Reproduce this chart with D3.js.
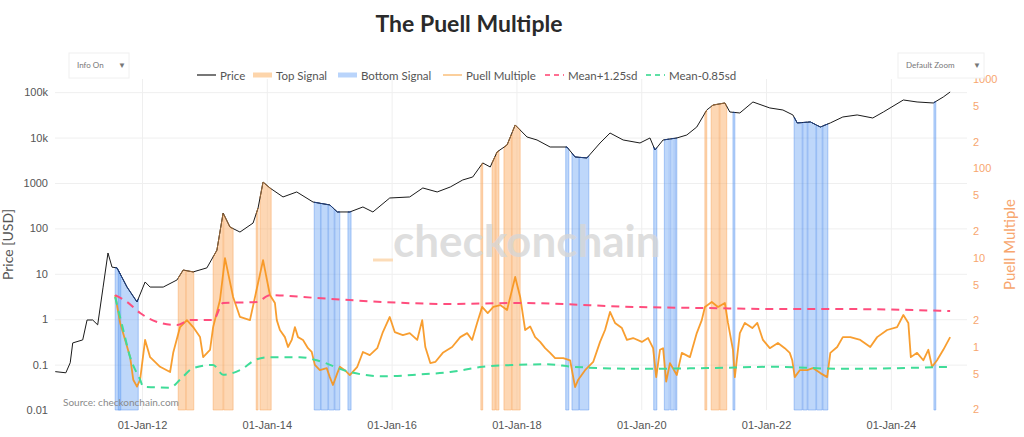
<!DOCTYPE html>
<html>
<head>
    <style>
        body { margin: 0; background: #fff; }
        svg { font-family: Lato, "Open Sans", sans-serif; }
        .title { font-size: 23px; font-weight: bold; fill: #2a2a2a; }
        .legend text { font-size: 11.5px; fill: #555; }
        .axis text { font-size: 11px; fill: #555; }
        .axis path, .axis line { stroke: none; }
        .grid line { stroke: #efefef; }
        .grid path { stroke: none; }
        .right text { fill: #f7a66e; }
        .ctrl text { font-size: 8px; fill: #777; }
    </style>
    <script src="https://d3js.org/d3.v7.min.js"></script>
</head>
<body>
    <svg width="1024" height="437"></svg>
    <script>

    // price, decimal year -> USD
    var priceYear = [2010.61, 2010.78, 2010.85, 2010.89, 2011.05, 2011.12, 2011.21, 2011.29, 2011.375, 2011.455,
        2011.52, 2011.6, 2011.76, 2011.92, 2012.05, 2012.13, 2012.34, 2012.56, 2012.66, 2012.82,
        2013.04, 2013.2, 2013.3, 2013.41, 2013.57, 2013.78, 2013.86, 2013.94, 2014.05, 2014.26,
        2014.48, 2014.74, 2015.01, 2015.13, 2015.33, 2015.54, 2015.7, 2015.97, 2016.29, 2016.5,
        2016.73, 2016.94, 2017.14, 2017.3, 2017.46, 2017.58, 2017.69, 2017.85, 2017.98, 2018.17,
        2018.33, 2018.54, 2018.81, 2018.94, 2019.13, 2019.34, 2019.5, 2019.71, 2019.98, 2020.14,
        2020.22, 2020.35, 2020.57, 2020.73, 2020.89, 2021.05, 2021.15, 2021.34, 2021.42, 2021.58,
        2021.79, 2022.06, 2022.27, 2022.43, 2022.5, 2022.71, 2022.87, 2023.03, 2023.23, 2023.46,
        2023.71, 2023.88, 2024.2, 2024.42, 2024.68, 2024.84, 2024.95];
    var priceValue = [0.07, 0.066, 0.11, 0.3, 0.35, 0.96, 0.96, 0.75, 4.9, 28.7,
        14, 13.5, 5.1, 2.4, 6.6, 5.1, 5.1, 7.3, 12.1, 11,
        13.5, 33, 218, 107, 83, 131, 281, 1050, 776, 492,
        634, 381, 328, 230, 230, 296, 230, 467, 492, 776,
        634, 816, 1165, 1355, 2760, 2250, 4820, 6870, 18950, 10300,
        8850, 6200, 6200, 3740, 3560, 7600, 12600, 8850, 7600, 9800,
        5330, 8850, 9800, 11400, 17100, 40500, 52000, 57800, 36600, 34800,
        60800, 44900, 40500, 31500, 21000, 22100, 17100, 21000, 28400, 31500,
        27000, 36600, 67300, 60800, 57800, 78300, 101000];

    // puell multiple
    var puellYear = [2011.57, 2011.65, 2011.73, 2011.81, 2011.86, 2011.92, 2011.97, 2012.05, 2012.13, 2012.29,
        2012.45, 2012.5, 2012.61, 2012.72, 2012.82, 2012.93, 2012.98, 2013.09, 2013.14, 2013.25,
        2013.33, 2013.46, 2013.57, 2013.73, 2013.94,
        2014.05, 2014.13, 2014.16, 2014.21, 2014.29, 2014.34, 2014.40, 2014.45, 2014.5, 2014.58,
        2014.66, 2014.72, 2014.77, 2014.85, 2014.96, 2015.01, 2015.06, 2015.13, 2015.17, 2015.25,
        2015.33, 2015.45, 2015.54, 2015.65, 2015.77, 2015.86, 2015.97, 2016.05, 2016.18, 2016.29,
        2016.41, 2016.49, 2016.54, 2016.62, 2016.7, 2016.82, 2016.97, 2017.1, 2017.21, 2017.29,
        2017.37, 2017.45, 2017.54, 2017.63, 2017.74, 2017.85, 2017.98, 2018.06, 2018.14, 2018.22,
        2018.3, 2018.38, 2018.46, 2018.54, 2018.62, 2018.75, 2018.86, 2018.94, 2018.99, 2019.1,
        2019.23, 2019.34, 2019.42, 2019.5, 2019.58, 2019.69, 2019.77, 2019.87, 2020.01, 2020.11,
        2020.19, 2020.24, 2020.3, 2020.35, 2020.4, 2020.46, 2020.57, 2020.65, 2020.78, 2020.89,
        2020.97, 2021.02, 2021.13, 2021.23, 2021.34, 2021.39, 2021.47, 2021.5, 2021.58, 2021.66,
        2021.78, 2021.86, 2021.95, 2022.06, 2022.19, 2022.3, 2022.38, 2022.42, 2022.46, 2022.54,
        2022.66, 2022.75, 2022.87, 2022.98, 2023.03, 2023.14, 2023.23, 2023.35, 2023.51, 2023.67,
        2023.78, 2023.94, 2024.1, 2024.2, 2024.28, 2024.32, 2024.42, 2024.52, 2024.6, 2024.66,
        2024.74, 2024.84, 2024.95];
    var puellValue = [3.8, 1.86, 1.2, 0.77, 0.43, 0.36, 0.43, 1.2, 0.77, 0.6,
        0.525, 0.86, 1.67, 2.0, 1.67, 1.29, 0.77, 0.93, 1.67, 3.36,
        9.9, 3.63, 2.17, 2.0, 9.4,
        3.82, 3.11, 2.0, 1.55, 1.29, 1.0, 1.2, 1.67, 1.29, 1.2,
        0.97, 0.88, 0.63, 0.55, 0.58, 0.46, 0.375, 0.51, 0.6, 0.55,
        0.485, 0.6, 0.88, 0.81, 0.97, 1.47, 2.17, 1.47, 1.36, 1.43,
        1.2, 2.0, 1.0, 0.66, 0.68, 0.86, 1.0, 1.29, 1.43, 1.2,
        1.86, 2.81, 2.4, 2.81, 2.95, 2.6, 6.08, 3.63, 1.55, 1.7,
        1.29, 1.14, 0.97, 0.86, 0.75, 0.75, 0.71, 0.356, 0.43, 0.55,
        0.68, 1.14, 1.55, 2.47, 1.86, 1.63, 1.2, 1.26, 1.14, 1.26,
        0.97, 0.46, 0.93, 0.97, 0.41, 0.66, 0.485, 0.86, 0.77, 1.43,
        2.0, 2.81, 3.19, 2.81, 3.11, 1.86, 0.93, 0.46, 1.43, 1.86,
        1.63, 1.86, 1.2, 0.97, 1.11, 0.97, 0.86, 0.71, 0.46, 0.55,
        0.55, 0.58, 0.51, 0.46, 0.86, 1.0, 1.29, 1.29, 1.2, 1.0,
        1.29, 1.55, 1.67, 2.28, 1.86, 0.77, 0.86, 0.71, 0.93, 0.6,
        0.71, 0.93, 1.29];

    // mean + 1.25 sd
    var meanHiYear = [2011.57, 2011.76, 2011.97, 2012.29, 2012.56, 2012.77, 2013.14, 2013.3, 2013.84, 2014.05,
        2014.8, 2015.86, 2016.94, 2018.01, 2019.98, 2021.05, 2022.11, 2023.19, 2024.95];
    var meanHiValue = [3.8, 3.19, 2.4, 1.86, 1.76, 2.0, 2.0, 3.11, 3.19, 3.8,
        3.54, 3.19, 3.03, 3.11, 2.8, 2.73, 2.66, 2.66, 2.53];

    // mean - 0.85 sd
    var meanLoYear = [2011.57, 2011.7, 2011.81, 2011.97, 2012.02, 2012.45, 2012.61, 2012.82, 2013.14, 2013.3,
        2013.57, 2013.84, 2014.05, 2014.53, 2014.8, 2015.33, 2015.86, 2016.41, 2016.94, 2017.46,
        2018.01, 2018.49, 2018.91, 2019.98, 2021.05, 2022.11, 2023.19, 2024.95];
    var meanLoValue = [3.63, 1.55, 0.77, 0.43, 0.36, 0.35, 0.43, 0.58, 0.63, 0.49,
        0.55, 0.73, 0.77, 0.77, 0.71, 0.525, 0.47, 0.49, 0.525, 0.6,
        0.63, 0.64, 0.6, 0.57, 0.58, 0.6, 0.57, 0.6];

    // signal periods [start, end]
    var topSignal = [[2012.58, 2012.70], [2012.71, 2012.83], [2013.14, 2013.30], [2013.31, 2013.46],
        [2013.83, 2013.86], [2013.89, 2014.07], [2017.43, 2017.46], [2017.61, 2017.66], [2017.67, 2017.72],
        [2017.80, 2017.92], [2017.93, 2018.06], [2021.02, 2021.05], [2021.12, 2021.25], [2021.26, 2021.37]];
    var bottomSignal = [[2011.57, 2011.94], [2011.62, 2011.66], [2014.76, 2014.86], [2014.87, 2014.98],
        [2014.99, 2015.08], [2015.09, 2015.17], [2015.30, 2015.35], [2018.79, 2018.84], [2018.89, 2019.00],
        [2019.01, 2019.16], [2020.20, 2020.25], [2020.37, 2020.45], [2020.47, 2020.53], [2020.55, 2020.57],
        [2021.47, 2021.50], [2022.45, 2022.58], [2022.59, 2022.66], [2022.67, 2022.80], [2022.81, 2022.90],
        [2022.91, 2022.99], [2024.69, 2024.72]];

    var xTicks = [2012, 2014, 2016, 2018, 2020, 2022, 2024];
    var xTickLabels = ["01-Jan-12", "01-Jan-14", "01-Jan-16", "01-Jan-18", "01-Jan-20", "01-Jan-22", "01-Jan-24"];
    var priceTicks = [0.01, 0.1, 1, 10, 100, 1000, 10000, 100000];
    var priceTickLabels = ["0.01", "0.1", "1", "10", "100", "1000", "10k", "100k"];
    var puellTicks = [0.2, 0.5, 1, 2, 5, 10, 20, 50, 100, 200, 500, 1000];
    var puellTickLabels = ["2", "5", "1", "2", "5", "10", "2", "5", "100", "2", "5", "1000"];

    function chart() {
        var svg = d3.select("svg"),
            left = 55, right = 967, top = 79, bottom = 410;

        var x = d3.scaleLinear().domain([2010.606, 2025.22]).range([left, right]);
        var yPrice = d3.scaleLog().domain([0.01, 195000]).range([bottom, top]);
        var yPuell = d3.scaleLog().domain([0.197, 1002]).range([bottom, top]);

        var price = priceYear.map(function(t, i) { return [t, priceValue[i]]; });
        var puell = puellYear.map(function(t, i) { return [t, puellValue[i]]; });
        var meanHi = meanHiYear.map(function(t, i) { return [t, meanHiValue[i]]; });
        var meanLo = meanLoYear.map(function(t, i) { return [t, meanLoValue[i]]; });

        // gridlines
        svg.append("g").attr("class", "grid")
           .attr("transform", "translate(" + left + ",0)")
           .call(d3.axisLeft(yPrice).tickValues(priceTicks.slice(1)).tickSize(-(right - left)).tickFormat(""));
        svg.append("g").attr("class", "grid")
           .attr("transform", "translate(0," + bottom + ")")
           .call(d3.axisBottom(x).tickValues(xTicks).tickSize(-(bottom - top)).tickFormat(""));

        // price between two dates (for the signal fills)
        var bis = d3.bisector(function(d) { return d[0]; }).left;
        function priceAt(t) {
            var i = bis(price, t);
            if (i <= 0) return price[0][1];
            if (i >= price.length) return price[price.length - 1][1];
            var a = price[i - 1], b = price[i], f = (t - a[0]) / (b[0] - a[0]);
            return Math.pow(10, Math.log10(a[1]) + f * (Math.log10(b[1]) - Math.log10(a[1])));
        }
        function bandPoints(s) {
            var pts = [[s[0], priceAt(s[0])]];
            price.forEach(function(p) { if (p[0] > s[0] && p[0] < s[1]) pts.push(p); });
            pts.push([s[1], priceAt(s[1])]);
            return pts;
        }

        var area = d3.area()
            .x(function(d) { return x(d[0]); })
            .y0(bottom)
            .y1(function(d) { return yPrice(d[1]); });
        var edge = d3.line()
            .x(function(d) { return x(d[0]); })
            .y(function(d) { return yPrice(d[1]); });

        svg.append("g").selectAll("path")
           .data(topSignal).enter().append("path")
           .attr("d", function(s) { return area(bandPoints(s)); })
           .attr("fill", "#fbb06a").attr("fill-opacity", 0.5)
           .attr("stroke", "#f9a55a").attr("stroke-opacity", 0.6).attr("stroke-width", 0.8);
        svg.append("g").selectAll("path")
           .data(bottomSignal).enter().append("path")
           .attr("d", function(s) { return area(bandPoints(s)); })
           .attr("fill", "#6fa6f4").attr("fill-opacity", 0.45)
           .attr("stroke", "#5d96ee").attr("stroke-opacity", 0.6).attr("stroke-width", 0.8);

        // watermark
        svg.append("line").attr("x1", 373).attr("x2", 393).attr("y1", 260).attr("y2", 260)
           .attr("stroke", "#fcdcb8").attr("stroke-width", 3);
        svg.append("text").attr("x", 393).attr("y", 257)
           .style("font-size", "44px").style("font-weight", "bold")
           .attr("fill", "#d6d6d6").attr("fill-opacity", 0.8)
           .text("checkonchain");

        // price line
        svg.append("path").datum(price)
           .attr("d", edge).attr("fill", "none").attr("stroke", "#1a1a1a").attr("stroke-width", 1);
        svg.append("g").selectAll("path")
           .data(topSignal).enter().append("path")
           .attr("d", function(s) { return edge(bandPoints(s)); })
           .attr("fill", "none").attr("stroke", "#9a6a3a").attr("stroke-width", 1);
        svg.append("g").selectAll("path")
           .data(bottomSignal).enter().append("path")
           .attr("d", function(s) { return edge(bandPoints(s)); })
           .attr("fill", "none").attr("stroke", "#1f3f80").attr("stroke-width", 1);

        var puellLine = d3.line()
            .x(function(d) { return x(d[0]); })
            .y(function(d) { return yPuell(d[1]); });

        svg.append("path").datum(puell)
           .attr("d", puellLine).attr("fill", "none").attr("stroke", "#f7931a")
           .attr("stroke-width", 1.8).attr("stroke-opacity", 0.9).attr("stroke-linejoin", "round");
        svg.append("path").datum(meanHi)
           .attr("d", puellLine.curve(d3.curveMonotoneX)).attr("fill", "none").attr("stroke", "#ff4d7d")
           .attr("stroke-width", 2).attr("stroke-dasharray", "8,6");
        svg.append("path").datum(meanLo)
           .attr("d", puellLine.curve(d3.curveMonotoneX)).attr("fill", "none").attr("stroke", "#3fdc98")
           .attr("stroke-width", 2).attr("stroke-dasharray", "8,6");

        svg.append("text").attr("x", 63).attr("y", 406)
           .style("font-size", "10px").attr("fill", "#8a8a8a")
           .text("Source: checkonchain.com");

        // axes
        svg.append("g").attr("class", "axis")
           .attr("transform", "translate(" + (left - 4) + ",0)")
           .call(d3.axisLeft(yPrice).tickValues(priceTicks).tickSize(0)
                 .tickFormat(function(d, i) { return priceTickLabels[i]; }));
        svg.append("g").attr("class", "axis right")
           .attr("transform", "translate(" + (right + 3) + ",0)")
           .call(d3.axisRight(yPuell).tickValues(puellTicks).tickSize(0)
                 .tickFormat(function(d, i) { return puellTickLabels[i]; }));
        svg.append("g").attr("class", "axis")
           .attr("transform", "translate(0," + (bottom + 8) + ")")
           .call(d3.axisBottom(x).tickValues(xTicks).tickSize(0)
                 .tickFormat(function(d, i) { return xTickLabels[i]; }));

        svg.append("text")
           .attr("transform", "translate(13," + ((top + bottom) / 2) + ") rotate(-90)")
           .attr("text-anchor", "middle").style("font-size", "14px").attr("fill", "#555")
           .text("Price [USD]");
        svg.append("text")
           .attr("transform", "translate(1015," + ((top + bottom) / 2) + ") rotate(-90)")
           .attr("text-anchor", "middle").style("font-size", "15px").attr("fill", "#f7a66e")
           .text("Puell Multiple");

        // title
        svg.append("text").attr("class", "title")
           .attr("x", 469).attr("y", 32).attr("text-anchor", "middle")
           .text("The Puell Multiple");

        // legend
        var legend = [
            { name: "Price", x: 197, kind: "line", color: "#777" },
            { name: "Top Signal", x: 253, kind: "box", color: "#fdd5ab" },
            { name: "Bottom Signal", x: 338, kind: "box", color: "#b9d4fb" },
            { name: "Puell Multiple", x: 443, kind: "line", color: "#fbcf9c" },
            { name: "Mean+1.25sd", x: 545, kind: "dash", color: "#ff6f92" },
            { name: "Mean-0.85sd", x: 646, kind: "dash", color: "#5fe0a6" }
        ];
        var lg = svg.append("g").attr("class", "legend")
            .selectAll("g").data(legend).enter().append("g")
            .attr("transform", function(d) { return "translate(" + d.x + ",75)"; });
        lg.append("line").attr("x1", 0).attr("x2", 19).attr("y1", 0).attr("y2", 0)
          .attr("stroke", function(d) { return d.color; })
          .attr("stroke-width", function(d) { return d.kind === "box" ? 5 : 2; })
          .attr("stroke-dasharray", function(d) { return d.kind === "dash" ? "5,4" : null; });
        lg.append("text").attr("x", 23).attr("y", 4.5).text(function(d) { return d.name; });

        // dropdown boxes
        var ctrl = svg.append("g").attr("class", "ctrl").selectAll("g")
            .data([{ label: "Info On", x: 69, w: 60 }, { label: "Default Zoom", x: 898, w: 86 }])
            .enter().append("g");
        ctrl.append("rect").attr("x", function(d) { return d.x; }).attr("y", 53)
            .attr("width", function(d) { return d.w; }).attr("height", 25)
            .attr("fill", "#fff").attr("stroke", "#f0f0f0");
        ctrl.append("text").attr("x", function(d) { return d.x + 8; }).attr("y", 68)
            .text(function(d) { return d.label; });
        ctrl.append("text").attr("x", function(d) { return d.x + d.w - 11; }).attr("y", 68)
            .style("font-size", "8px").attr("fill", "#1f2f4f").text("\u25BC");
    }
    chart();
    </script>
</body>
</html>
